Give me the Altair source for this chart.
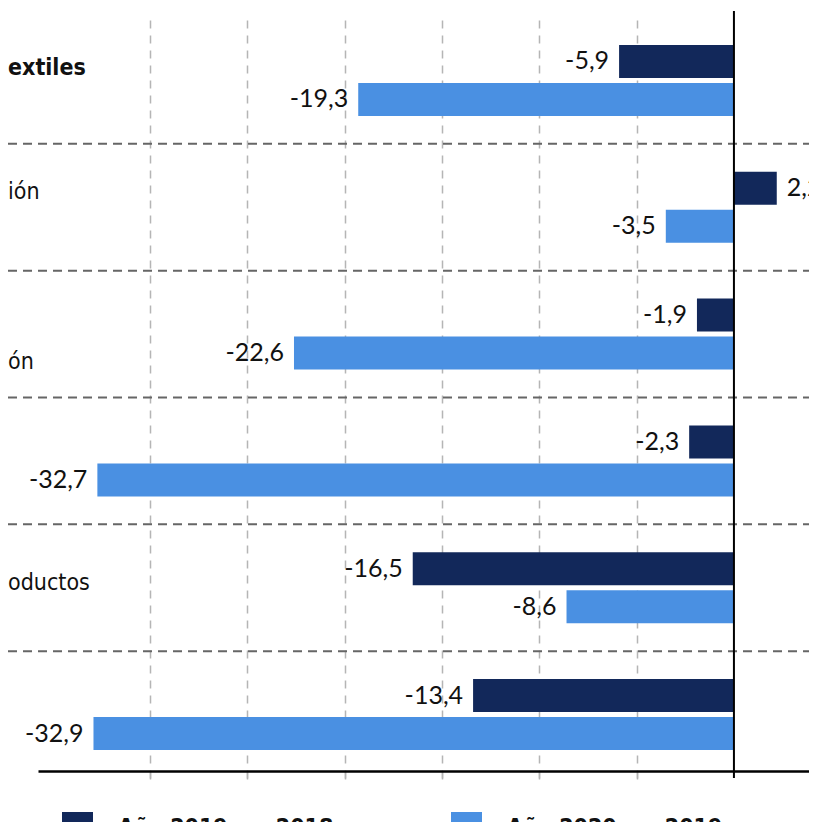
import altair as alt
import pandas as pd

# ---- data ----
groups = [1, 2, 3, 4, 5, 6]
group_labels = ["extiles", "ión", "ón", "", "oductos", ""]
label_bold = [True, False, False, False, False, False]
series = ["Año 2019 vs. 2018", "Año 2020 vs. 2019"]
v2019 = [-5.9, 2.2, -1.9, -2.3, -16.5, -13.4]
v2020 = [-19.3, -3.5, -22.6, -32.7, -8.6, -32.9]
x_ticks = [-30, -25, -20, -15, -10, -5]
colors = ["#12285a", "#4a90e2"]

rows = []
for g, a, b in zip(groups, v2019, v2020):
    rows.append({"group": g, "series": series[0], "value": a})
    rows.append({"group": g, "series": series[1], "value": b})
bars_df = pd.DataFrame(rows)
bars_df["label"] = bars_df["value"].map(lambda v: f"{v:.1f}".replace(".", ","))

labels_df = pd.DataFrame({"group": groups, "text": group_labels, "bold": label_bold})
sep_df = pd.DataFrame({"group": groups[1:]})
zero_df = pd.DataFrame({"x": [0]})

# ---- layout / style ----
W, H = 771, 761
STEP = H / len(groups)
OFF = 19
LABEL_FONT = "DejaVu Sans Condensed, DejaVu Sans, sans-serif"
# vertical shift of each visible label line (the labels are multi-line, cut at the left edge)
label_shift = {1: -12, 2: -15, 3: 28, 5: -5}

y_enc = alt.Y("group:O", scale=alt.Scale(paddingInner=0, paddingOuter=0), axis=None)
x_scale = alt.Scale(domain=[-35.75, 3.856], nice=False, zero=False)
x_axis = alt.Axis(values=x_ticks, labels=False, title=None, grid=True, offset=-7,
                  gridColor="#b5b5b5", gridDash=[8, 7], gridWidth=1.5,
                  tickColor="#b5b5b5", tickSize=8, tickWidth=1.5,
                  domainColor="#000000", domainWidth=2.5)
color_enc = alt.Color("series:N", scale=alt.Scale(domain=series, range=colors),
                      legend=alt.Legend(title=None, orient="none", legendX=24, legendY=795,
                                        direction="horizontal", symbolType="square",
                                        symbolSize=961, symbolStrokeWidth=0, symbolOpacity=1,
                                        labelFont=LABEL_FONT, labelFontSize=23,
                                        labelFontWeight="bold", labelColor="#111111",
                                        labelOffset=25, columnPadding=117, labelLimit=400,
                                        padding=0))

layers = []
for s, off in zip(series, [-OFF, OFF]):
    base = alt.Chart(bars_df).transform_filter(alt.datum.series == s)
    layers.append(base.mark_bar(size=33, yOffset=off).encode(
        y=y_enc, x=alt.X("value:Q", scale=x_scale, axis=x_axis), color=color_enc))
    layers.append(base.transform_filter("datum.value < 0").mark_text(
        align="right", baseline="middle", dx=-10, yOffset=off, font="Lato", fontSize=25,
        color="#111111").encode(y=y_enc, x=alt.X("value:Q", scale=x_scale), text="label:N"))
    layers.append(base.transform_filter("datum.value >= 0").mark_text(
        align="left", baseline="middle", dx=10, yOffset=off, font="Lato", fontSize=25,
        color="#111111").encode(y=y_enc, x=alt.X("value:Q", scale=x_scale), text="label:N"))

seps = alt.Chart(sep_df).mark_rule(color="#666666", strokeWidth=2, strokeDash=[9, 6],
                                   yOffset=-STEP / 2).encode(
    y=y_enc, x=alt.value(-30), x2=alt.value(W),
)

zero = alt.Chart(zero_df).mark_rule(color="#000000", strokeWidth=2).encode(
    x=alt.X("x:Q", scale=x_scale), y=alt.value(-6), y2=alt.value(H)
)

cat_layers = []
for g, shift in label_shift.items():
    bold = label_bold[groups.index(g)]
    cat_layers.append(
        alt.Chart(labels_df).transform_filter(alt.datum.group == g).mark_text(
            align="left", baseline="middle", font=LABEL_FONT, fontSize=23,
            fontWeight="bold" if bold else "normal", yOffset=shift, color="#111111"
        ).encode(y=y_enc, x=alt.value(-30), text="text:N")
    )

chart = alt.layer(seps, *layers, zero, *cat_layers).properties(
    width=W, height=H,
    autosize=alt.AutoSizeParams(type="none"),
    padding={"left": 30, "top": 9, "right": 0, "bottom": 44},
    background="#ffffff",
).configure_view(stroke=None)

chart.save("out.html", embed_options={"renderer": "svg", "actions": False})
